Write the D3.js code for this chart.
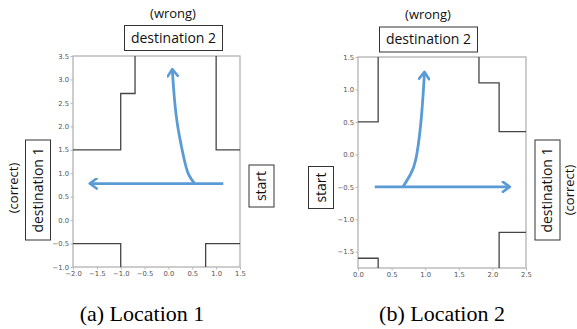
<!DOCTYPE html>
<html>
<head>
<meta charset="utf-8">
<script src="https://cdn.jsdelivr.net/npm/d3@7"></script>
<style>
  body { margin: 0; background: #fff; }
  svg { display: block; }
</style>
</head>
<body>
<script>
'use strict';

// ---- panel (a) data ----
const xDomainA = [-2, 1.5];
const yDomainA = [-1, 3.5];
const xTicksA = [-2, -1.5, -1, -0.5, 0, 0.5, 1, 1.5];
const yTicksA = [-1, -0.5, 0, 0.5, 1, 1.5, 2, 2.5, 3, 3.5];
const wallsA = [
  [[-2, 1.5], [-1, 1.5], [-1, 2.7], [-0.7, 2.7], [-0.7, 3.5]],
  [[1.0, 3.5], [1.0, 1.5], [1.5, 1.5]],
  [[-2, -0.5], [-1, -0.5], [-1, -1]],
  [[0.78, -1], [0.78, -0.5], [1.5, -0.5]]
];
const straightA = [[1.15, 0.78], [-1.65, 0.78]];
const curveA = [[0.55, 0.78], [0.42, 0.98], [0.31, 1.39], [0.18, 2.10], [0.11, 2.78], [0.08, 3.22]];

// ---- panel (b) data ----
const xDomainB = [0, 2.5];
const yDomainB = [-1.75, 1.5];
const xTicksB = [0, 0.5, 1, 1.5, 2, 2.5];
const yTicksB = [-1.5, -1, -0.5, 0, 0.5, 1, 1.5];
const wallsB = [
  [[0, 0.5], [0.3, 0.5], [0.3, 1.5]],
  [[1.8, 1.5], [1.8, 1.1], [2.1, 1.1], [2.1, 0.35], [2.5, 0.35]],
  [[0, -1.6], [0.3, -1.6], [0.3, -1.75]],
  [[2.1, -1.75], [2.1, -1.2], [2.5, -1.2]]
];
const straightB = [[0.25, -0.5], [2.26, -0.5]];
const curveB = [[0.67, -0.5], [0.78, -0.31], [0.86, -0.08], [0.93, 0.43], [0.97, 0.94], [0.99, 1.27]];

const captions = ["(a) Location 1", "(b) Location 2"];

const blue = '#5b9bd5';
const svg = d3.select('body').append('svg')
  .attr('width', 577).attr('height', 329);

// open chevron arrowhead
svg.append('defs').append('marker')
  .attr('id', 'head')
  .attr('viewBox', '-10 -6 12 12')
  .attr('refX', 0).attr('refY', 0)
  .attr('markerWidth', 12).attr('markerHeight', 12)
  .attr('markerUnits', 'userSpaceOnUse')
  .attr('orient', 'auto')
  .append('path')
  .attr('d', 'M-7,-5 L0,0 L-7,5')
  .attr('fill', 'none')
  .attr('stroke', blue)
  .attr('stroke-width', 2.6)
  .attr('stroke-linecap', 'round')
  .attr('stroke-linejoin', 'round');

function drawPanel(p) {
  const x = d3.scaleLinear().domain(p.xDomain).range([p.x0, p.x1]);
  const y = d3.scaleLinear().domain(p.yDomain).range([p.y1, p.y0]);
  const g = svg.append('g');

  // axes
  const xAxis = d3.axisBottom(x).tickValues(p.xTicks).tickSize(2.5).tickPadding(1.5)
    .tickFormat(d3.format('.1f'));
  const yAxis = d3.axisLeft(y).tickValues(p.yTicks).tickSize(2.5).tickPadding(1.5)
    .tickFormat(d3.format('.1f'));
  [g.append('g').attr('transform', `translate(0,${p.y1})`).call(xAxis),
   g.append('g').attr('transform', `translate(${p.x0},0)`).call(yAxis)].forEach(a => {
    a.select('.domain').remove();
    a.selectAll('line').attr('stroke', '#888').attr('stroke-width', 0.6);
    a.selectAll('text').attr('fill', '#555')
      .style('font-family', 'DejaVu Sans').style('font-size', '6.8px');
  });

  // frame
  g.append('rect')
    .attr('x', p.x0).attr('y', p.y0)
    .attr('width', p.x1 - p.x0).attr('height', p.y1 - p.y0)
    .attr('fill', 'none').attr('stroke', '#b8b8b8').attr('stroke-width', 1.4);

  // walls
  const line = d3.line().x(d => x(d[0])).y(d => y(d[1]));
  g.selectAll('.wall').data(p.walls).enter().append('path')
    .attr('d', line)
    .attr('fill', 'none').attr('stroke', '#444').attr('stroke-width', 1.3);

  // arrows
  g.append('path').attr('d', line(p.straight))
    .attr('fill', 'none').attr('stroke', blue).attr('stroke-width', 2.8)
    .attr('marker-end', 'url(#head)');
  const curve = d3.line().x(d => x(d[0])).y(d => y(d[1])).curve(d3.curveNatural);
  g.append('path').attr('d', curve(p.curve))
    .attr('fill', 'none').attr('stroke', blue).attr('stroke-width', 2.8)
    .attr('marker-end', 'url(#head)');

  // caption
  g.append('text')
    .attr('x', p.capX).attr('y', 321)
    .attr('text-anchor', 'middle')
    .style('font-family', 'Liberation Serif').style('font-size', '22px')
    .text(p.caption);
}

// labelled box with text; w, h are on-screen size, rot in degrees
function boxLabel(cx, cy, w, h, txt, rot) {
  const g = svg.append('g').attr('transform', `translate(${cx},${cy}) rotate(${rot})`);
  const bw = rot ? h : w, bh = rot ? w : h;
  g.append('rect').attr('x', -bw / 2).attr('y', -bh / 2).attr('width', bw).attr('height', bh)
    .attr('fill', '#fff').attr('stroke', '#333').attr('stroke-width', 1);
  g.append('text').attr('x', 0).attr('y', 0).attr('dy', '0.35em')
    .attr('text-anchor', 'middle')
    .style('font-family', 'Open Sans').style('font-size', '14px').attr('fill', '#111')
    .text(txt);
}
function plainLabel(cx, cy, txt, rot) {
  svg.append('text')
    .attr('transform', `translate(${cx},${cy}) rotate(${rot})`)
    .attr('dy', '0.35em').attr('text-anchor', 'middle')
    .style('font-family', 'Open Sans').style('font-size', '13px').attr('fill', '#111')
    .text(txt);
}

drawPanel({xDomain: xDomainA, yDomain: yDomainA, xTicks: xTicksA, yTicks: yTicksA,
  walls: wallsA, straight: straightA, curve: curveA,
  x0: 73, x1: 240, y0: 56, y1: 267, capX: 142, caption: captions[0]});
drawPanel({xDomain: xDomainB, yDomain: yDomainB, xTicks: xTicksB, yTicks: yTicksB,
  walls: wallsB, straight: straightB, curve: curveB,
  x0: 358, x1: 526, y0: 57, y1: 268, capX: 442, caption: captions[1]});

// annotations, panel (a)
plainLabel(173, 13, '(wrong)', 0);
boxLabel(173.5, 38, 98, 25, 'destination 2', 0);
boxLabel(38, 190, 25, 100, 'destination 1', -90);
plainLabel(13, 188, '(correct)', -90);
boxLabel(261.5, 186, 25, 42, 'start', -90);

// annotations, panel (b)
plainLabel(428, 14, '(wrong)', 0);
boxLabel(428.5, 39.5, 98, 25, 'destination 2', 0);
boxLabel(321, 187.5, 25, 42, 'start', -90);
boxLabel(547.5, 190, 25, 100, 'destination 1', -90);
plainLabel(569, 190, '(correct)', -90);
</script>
</body>
</html>
